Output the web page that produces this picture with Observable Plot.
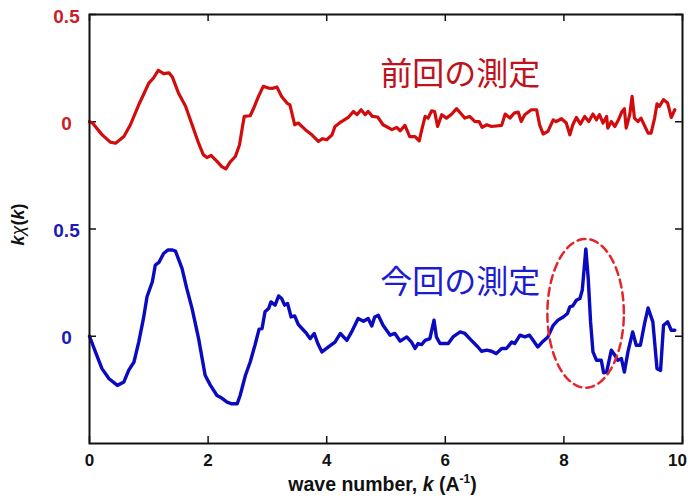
<!DOCTYPE html>
<html><head><meta charset="utf-8">
<script src="https://cdn.jsdelivr.net/npm/d3@7"></script>
<script src="https://cdn.jsdelivr.net/npm/@observablehq/plot@0.6"></script>
<style>body{margin:0;background:#fff}</style>
</head><body><div id="chart"></div>
<script>
// 前回の測定 (previous measurement), plotted with offset +1
const prevK = [0, 0.05, 0.21, 0.35, 0.44, 0.58, 0.69, 0.83, 0.91, 1.0, 1.08, 1.16, 1.25, 1.34, 1.40, 1.50, 1.62, 1.73, 1.84, 1.92, 1.98, 2.05, 2.15, 2.23, 2.30, 2.37, 2.46, 2.53, 2.58, 2.61, 2.71, 2.77, 2.85, 2.93, 3.02, 3.09, 3.16, 3.24, 3.33, 3.38, 3.46, 3.52, 3.64, 3.75, 3.86, 3.93, 4.0, 4.09, 4.14, 4.25, 4.37, 4.45, 4.51, 4.58, 4.65, 4.70, 4.77, 4.86, 4.95, 5.10, 5.18, 5.24, 5.32, 5.40, 5.49, 5.56, 5.61, 5.66, 5.71, 5.77, 5.82, 5.87, 5.94, 6.02, 6.11, 6.19, 6.27, 6.33, 6.41, 6.50, 6.57, 6.62, 6.70, 6.78, 6.95, 7.01, 7.09, 7.16, 7.23, 7.28, 7.34, 7.45, 7.54, 7.59, 7.65, 7.73, 7.82, 7.87, 7.96, 8.04, 8.10, 8.15, 8.21, 8.28, 8.35, 8.42, 8.49, 8.55, 8.60, 8.66, 8.72, 8.74, 8.80, 8.86, 8.92, 8.98, 9.02, 9.05, 9.11, 9.15, 9.19, 9.25, 9.30, 9.42, 9.47, 9.53, 9.57, 9.61, 9.68, 9.75, 9.81, 9.87];
const prevChi = [0, -0.006, -0.06, -0.095, -0.10, -0.069, -0.014, 0.079, 0.126, 0.18, 0.204, 0.24, 0.224, 0.228, 0.207, 0.134, 0.072, -0.014, -0.10, -0.154, -0.167, -0.157, -0.185, -0.209, -0.22, -0.188, -0.162, -0.107, -0.022, 0.025, 0.028, 0.064, 0.118, 0.165, 0.157, 0.156, 0.162, 0.118, 0.087, 0.079, -0.014, -0.006, -0.037, -0.061, -0.092, -0.079, -0.084, -0.061, -0.022, 0.001, 0.022, 0.048, 0.033, 0.056, 0.033, 0.048, 0.025, 0.022, -0.014, -0.037, -0.026, -0.042, -0.017, -0.069, -0.069, -0.089, -0.03, 0.025, 0.017, 0.051, 0.048, -0.022, 0.033, 0.017, 0.036, 0.061, 0.036, 0.017, 0.025, 0.001, 0.001, -0.026, -0.014, -0.022, -0.017, 0.036, 0.017, 0.04, 0.045, 0.001, 0.033, 0.056, 0.056, -0.014, -0.057, -0.045, 0.009, 0.001, 0.014, -0.006, -0.061, -0.014, 0.02, -0.011, 0.025, 0.001, 0.036, 0.009, 0.033, -0.006, 0.025, -0.03, 0.001, -0.022, 0.009, 0.048, 0.061, -0.03, 0.033, 0.118, 0.017, 0.001, 0.017, -0.053, -0.053, 0.017, 0.083, 0.072, 0.103, 0.087, 0.02, 0.056];

// 今回の測定 (current measurement), offset 0
const currK = [0, 0.10, 0.21, 0.33, 0.47, 0.58, 0.66, 0.75, 0.83, 0.91, 0.97, 1.06, 1.11, 1.17, 1.25, 1.32, 1.40, 1.45, 1.56, 1.64, 1.73, 1.84, 1.95, 2.04, 2.15, 2.23, 2.32, 2.40, 2.49, 2.54, 2.63, 2.71, 2.79, 2.86, 2.91, 2.96, 3.02, 3.06, 3.13, 3.19, 3.24, 3.29, 3.34, 3.40, 3.46, 3.52, 3.61, 3.66, 3.72, 3.79, 3.85, 3.92, 4.03, 4.14, 4.23, 4.34, 4.42, 4.53, 4.62, 4.70, 4.76, 4.81, 4.87, 4.95, 5.07, 5.15, 5.24, 5.35, 5.43, 5.49, 5.54, 5.60, 5.66, 5.74, 5.81, 5.85, 5.91, 6.05, 6.13, 6.25, 6.33, 6.44, 6.55, 6.61, 6.70, 6.78, 6.86, 6.95, 7.03, 7.12, 7.17, 7.26, 7.34, 7.42, 7.48, 7.56, 7.65, 7.73, 7.82, 7.90, 7.99, 8.06, 8.10, 8.15, 8.21, 8.27, 8.31, 8.37, 8.41, 8.45, 8.49, 8.55, 8.63, 8.67, 8.72, 8.80, 8.86, 8.91, 8.97, 9.02, 9.08, 9.16, 9.22, 9.29, 9.36, 9.42, 9.50, 9.57, 9.63, 9.68, 9.75, 9.81, 9.87];
const currChi = [0, -0.073, -0.151, -0.198, -0.229, -0.213, -0.159, -0.12, -0.027, 0.083, 0.184, 0.254, 0.332, 0.344, 0.386, 0.402, 0.402, 0.397, 0.316, 0.223, 0.129, -0.011, -0.182, -0.229, -0.276, -0.288, -0.307, -0.315, -0.315, -0.276, -0.182, -0.12, -0.042, 0.033, 0.036, 0.114, 0.129, 0.16, 0.145, 0.188, 0.176, 0.145, 0.153, 0.09, 0.095, 0.055, 0.028, 0.013, -0.011, 0.013, -0.034, -0.073, -0.05, -0.027, 0.013, -0.019, 0.02, 0.083, 0.07, 0.083, 0.048, 0.09, 0.098, 0.051, 0.005, 0.013, -0.023, -0.003, -0.027, -0.057, -0.034, -0.039, -0.019, -0.011, 0.075, -0.003, -0.034, -0.034, -0.003, 0.02, 0.013, -0.019, -0.05, -0.07, -0.065, -0.07, -0.081, -0.057, -0.057, -0.027, -0.034, 0.005, -0.003, 0.005, -0.019, -0.05, -0.023, -0.003, 0.051, 0.075, 0.09, 0.106, 0.137, 0.142, 0.168, 0.176, 0.215, 0.407, 0.27, 0.067, -0.073, -0.112, -0.112, -0.17, -0.167, -0.065, -0.089, -0.112, -0.104, -0.167, -0.073, 0.02, -0.042, -0.042, 0.059, 0.132, 0.067, -0.151, -0.159, 0.051, 0.067, 0.028, 0.028];

const seriesNames = ["前回の測定", "今回の測定"];
const seriesOffsets = [1, 0];
const seriesLabelK = [6.25, 6.25];
const seriesLabelChi = [0.22, 0.25];

const xTicks = [0, 2, 4, 6, 8, 10];
const xTickLabels = ["0", "2", "4", "6", "8", "10"];
const yTickValues = [1.5, 1, 0.5, 0];
const yTickLabels = ["0.5", "0", "0.5", "0"];
const yTickSeries = [0, 0, 1, 1];

// highlighted region (ellipse) on current measurement: center k, center chi, radius k, radius chi
const highlightCenter = [8.366, 0.107];
const highlightRadius = [0.645, 0.347];

const lineColors = ["#d20c0c", "#0a0ac0"];
const textColors = ["#c0121c", "#1c1cd0"];
const tickColors = ["#c8202a", "#1a1ab8"];

const prev = prevK.map((k, i) => ({k, v: prevChi[i] + seriesOffsets[0]}));
const curr = currK.map((k, i) => ({k, v: currChi[i] + seriesOffsets[1]}));
const labels = seriesNames.map((name, i) => ({name, k: seriesLabelK[i], v: seriesLabelChi[i] + seriesOffsets[i], i}));
const yTicks = yTickValues.map((v, i) => ({v, label: yTickLabels[i], s: yTickSeries[i]}));
const xTickData = xTicks.map((k, i) => ({k, label: xTickLabels[i], last: i === xTicks.length - 1}));
const ellipse = d3.range(0, 361, 4).map(a => ({
  k: highlightCenter[0] + highlightRadius[0] * Math.cos(a * Math.PI / 180),
  v: highlightCenter[1] + seriesOffsets[1] + highlightRadius[1] * Math.sin(a * Math.PI / 180)
}));

const W = 690, H = 504, mL = 89, mR = 8, mT = 14, mB = 61;
const iw = W - mL - mR, ih = H - mT - mB, tl = 7;

const chart = Plot.plot({
  width: W, height: H,
  marginLeft: mL, marginRight: mR, marginTop: mT, marginBottom: mB,
  style: {fontFamily: "'Liberation Sans', Arial, sans-serif", fontWeight: "bold", fontSize: "17px", color: "#111", background: "#fff"},
  x: {domain: [0, 10], axis: null},
  y: {domain: [-0.5, 1.5], axis: null},
  marks: [
    Plot.text(xTickData.filter(d => !d.last), {x: "k", text: "label", frameAnchor: "bottom", dy: 22, fill: "#111", fontSize: 17, fontWeight: "bold"}),
    Plot.text(xTickData.filter(d => d.last), {x: "k", text: "label", frameAnchor: "bottom", dy: 22, dx: -5, fill: "#111", fontSize: 17, fontWeight: "bold"}),
    Plot.tickX(xTicks, {x: d => d, insetTop: ih - tl, stroke: "#111", strokeWidth: 1.5}),
    Plot.tickX(xTicks, {x: d => d, insetBottom: ih - tl, stroke: "#111", strokeWidth: 1.5}),
    Plot.tickY(yTickValues, {y: d => d, insetRight: iw - tl, stroke: "#111", strokeWidth: 1.5}),
    Plot.tickY(yTickValues, {y: d => d, insetLeft: iw - tl, stroke: "#111", strokeWidth: 1.5}),
    Plot.text(yTicks.filter(d => d.s === 0), {y: "v", text: "label", frameAnchor: "left", dx: -23, dy: 2, textAnchor: "middle", fill: tickColors[0], fontSize: 19, fontWeight: "bold"}),
    Plot.text(yTicks.filter(d => d.s === 1), {y: "v", text: "label", frameAnchor: "left", dx: -23, dy: 2, textAnchor: "middle", fill: tickColors[1], fontSize: 19, fontWeight: "bold"}),
    Plot.line(prev, {x: "k", y: "v", stroke: lineColors[0], strokeWidth: 3.2, strokeLinejoin: "round"}),
    Plot.line(curr, {x: "k", y: "v", stroke: lineColors[1], strokeWidth: 3.4, strokeLinejoin: "round"}),
    Plot.line(ellipse, {x: "k", y: "v", stroke: "#e4262a", strokeWidth: 2.5, strokeDasharray: "8,5"}),
    Plot.text(labels.filter(d => d.i === 0), {x: "k", y: "v", text: "name", fill: textColors[0], fontSize: 32, fontWeight: "normal", fontFamily: "'Noto Sans CJK JP', sans-serif"}),
    Plot.text(labels.filter(d => d.i === 1), {x: "k", y: "v", text: "name", fill: textColors[1], fontSize: 32, fontWeight: "normal", fontFamily: "'Noto Sans CJK JP', sans-serif"}),
    Plot.frame({stroke: "#111", strokeWidth: 2})
  ]
});
document.getElementById("chart").appendChild(chart);

const xs = chart.scale("x"), ys = chart.scale("y");
const svg = d3.select(chart);
const xl = svg.append("text")
  .attr("x", (xs.apply(0) + xs.apply(10)) / 2 - 3)
  .attr("y", H - 13)
  .attr("text-anchor", "middle")
  .attr("fill", "#111")
  .style("font", "bold 19.5px 'Liberation Sans', Arial, sans-serif");
xl.append("tspan").text("wave number, ");
xl.append("tspan").attr("font-style", "italic").text("k");
xl.append("tspan").text(" (A");
xl.append("tspan").attr("font-size", "12px").attr("dy", -8).text("-1");
xl.append("tspan").attr("dy", 8).text(")");

const ycy = (ys.apply(-0.5) + ys.apply(1.5)) / 2 - 4;
const yl = svg.append("text")
  .attr("transform", `translate(24,${ycy}) rotate(-90)`)
  .attr("text-anchor", "middle")
  .attr("fill", "#111")
  .style("font", "bold italic 18px 'Liberation Sans', Arial, sans-serif");
yl.append("tspan").text("k");
yl.append("tspan").attr("font-weight", "normal").text("χ");
yl.append("tspan").attr("font-style", "normal").text("(");
yl.append("tspan").text("k");
yl.append("tspan").attr("font-style", "normal").text(")");
</script>
</body></html>
